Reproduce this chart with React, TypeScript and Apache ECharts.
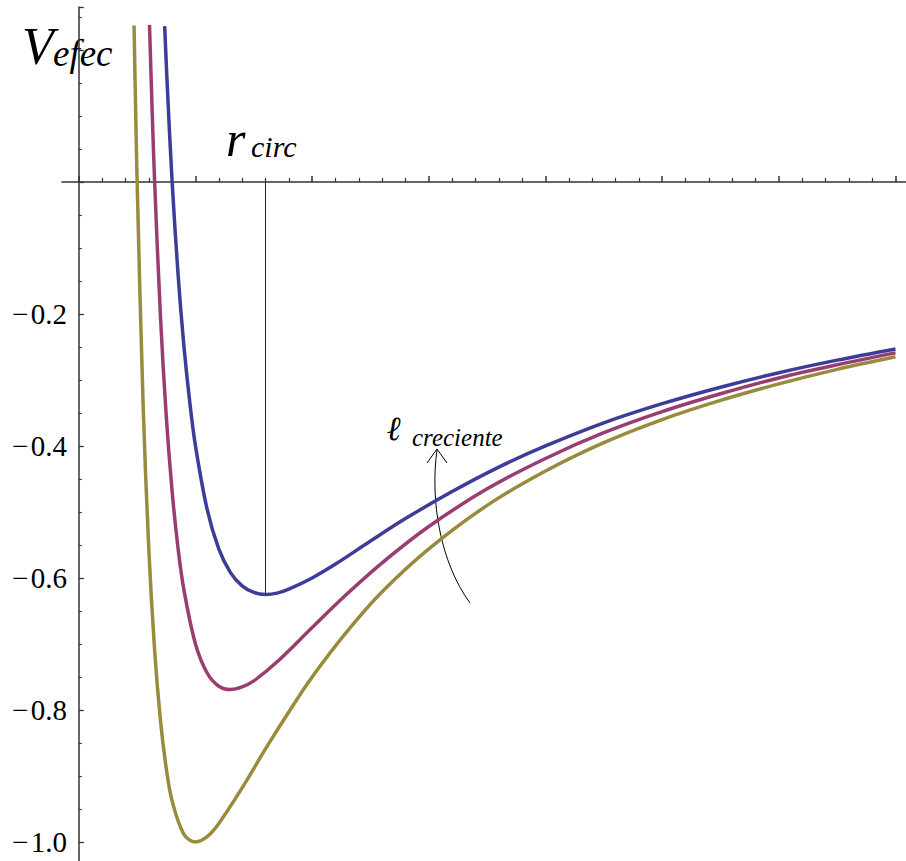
import React, { useEffect, useRef } from "react";
import * as echarts from "echarts";

// axis ranges (r in units of the major x tick, V in plot units)
const xMin = -0.144;
const xMax = 7.09;
const yMin = -1.2;
const yMax = 0.265;
const yInterval = 0.2;
const xMajorTicks = [0, 1, 2, 3, 4, 5, 6, 7];
const xMinorTicks = [
  0.2, 0.4, 0.6, 0.8, 1.2, 1.4, 1.6, 1.8, 2.2, 2.4, 2.6, 2.8, 3.2, 3.4, 3.6, 3.8,
  4.2, 4.4, 4.6, 4.8, 5.2, 5.4, 5.6, 5.8, 6.2, 6.4, 6.6, 6.8,
];
const yTickLabels = [-1.0, -0.8, -0.6, -0.4, -0.2];

// curves: [r, V]
const blueCurve = [
  [0.736, 0.236], [0.76, 0.139], [0.8, 0.0], [0.85, -0.138], [0.9, -0.247],
  [0.95, -0.332], [1.0, -0.4], [1.1, -0.496], [1.2, -0.556], [1.3, -0.592],
  [1.4, -0.612], [1.5, -0.622], [1.6, -0.625], [1.7, -0.623], [1.8, -0.617],
  [2.0, -0.6], [2.2, -0.579], [2.5, -0.544], [2.8, -0.51], [3.2, -0.469],
  [3.6, -0.432], [4.0, -0.4], [4.5, -0.365], [5.0, -0.336], [5.5, -0.311],
  [6.0, -0.289], [6.5, -0.27], [7.0, -0.253],
];
const magentaCurve = [
  [0.606, 0.238], [0.63, 0.101], [0.65, 0.0], [0.7, -0.204], [0.75, -0.356],
  [0.8, -0.469], [0.85, -0.554], [0.9, -0.617], [1.0, -0.7], [1.1, -0.744],
  [1.2, -0.764], [1.3, -0.769], [1.4, -0.765], [1.5, -0.756], [1.7, -0.727],
  [2.0, -0.675], [2.3, -0.624], [2.6, -0.577], [3.0, -0.522], [3.5, -0.465],
  [4.0, -0.419], [4.5, -0.38], [5.0, -0.348], [5.5, -0.321], [6.0, -0.297],
  [6.5, -0.277], [7.0, -0.259],
];
const yellowCurve = [
  [0.4734, 0.237], [0.49, 0.083], [0.5, 0.0], [0.55, -0.331], [0.6, -0.556],
  [0.65, -0.71], [0.7, -0.816], [0.75, -0.889], [0.8, -0.938], [0.9, -0.988],
  [1.0, -1.0], [1.1, -0.992], [1.2, -0.972], [1.4, -0.918], [1.6, -0.859],
  [1.8, -0.803], [2.0, -0.75], [2.3, -0.681], [2.6, -0.621], [3.0, -0.556],
  [3.5, -0.49], [4.0, -0.438], [4.5, -0.395], [5.0, -0.36], [5.5, -0.331],
  [6.0, -0.306], [6.5, -0.284], [7.0, -0.265],
];
// vertical marker at r_circ of the blue curve
const rCircLine = [
  [1.6, 0],
  [1.6, -0.625],
];

const serif = "Liberation Serif";

export default function App() {
  const ref = useRef<HTMLDivElement>(null);

  useEffect(() => {
    if (!ref.current) return;
    const chart = echarts.init(ref.current, null, { renderer: "svg" });
    const axisColor = "#333";
    const curveStyle = (color: string) => ({
      type: "line" as const,
      showSymbol: false,
      smooth: 0.35,
      lineStyle: { color, width: 3.5 },
      itemStyle: { color },
      z: 3,
    });
    const txt = (
      text: string,
      x: number,
      y: number,
      size: number,
      weight: string = "normal",
      family: string = serif
    ) => ({
      type: "text",
      x,
      y,
      style: {
        text,
        fontFamily: family,
        fontSize: size,
        fontStyle: "italic",
        fontWeight: weight,
        fill: "#000",
        textAlign: "left",
        textVerticalAlign: "middle",
      },
    });
    chart.setOption({
      animation: false,
      backgroundColor: "#fff",
      grid: { left: 62, right: 0, top: 7, bottom: 6, outerBoundsMode: "none", containLabel: false },
      xAxis: [
        {
          type: "value",
          min: xMin,
          max: xMax,
          position: "bottom",
          axisLine: {
            onZero: true,
            onZeroAxisIndex: 0,
            lineStyle: { color: axisColor, width: 1.5 },
          },
          axisTick: {
            inside: true,
            length: 6,
            customValues: xMajorTicks,
            lineStyle: { color: axisColor, width: 1.5 },
          },
          axisLabel: { show: false },
          splitLine: { show: false },
        },
        {
          type: "value",
          min: xMin,
          max: xMax,
          position: "bottom",
          axisLine: { show: false, onZero: true, onZeroAxisIndex: 0 },
          axisTick: {
            inside: true,
            length: 4,
            customValues: xMinorTicks,
            lineStyle: { color: axisColor, width: 1.2 },
          },
          axisLabel: { show: false },
          splitLine: { show: false },
        },
      ],
      yAxis: {
        type: "value",
        min: yMin,
        max: yMax,
        interval: yInterval,
        position: "left",
        axisLine: {
          onZero: true,
          onZeroAxisIndex: 0,
          lineStyle: { color: axisColor, width: 1.5 },
        },
        axisTick: {
          inside: true,
          length: 5,
          lineStyle: { color: axisColor, width: 1.3 },
        },
        minorTick: {
          show: true,
          splitNumber: 4,
          length: 3,
          lineStyle: { color: axisColor, width: 1.1 },
        },
        splitLine: { show: false },
        minorSplitLine: { show: false },
        axisLabel: {
          margin: 50,
          align: "left",
          fontFamily: serif,
          fontSize: 29,
          color: "#000",
          formatter: (v: number) => {
            const r = Math.round(v * 10) / 10;
            return yTickLabels.indexOf(r) >= 0 ? "\u2212\u200A" + Math.abs(r).toFixed(1) : "";
          },
        },
      },
      series: [
        {
          type: "line",
          data: rCircLine,
          showSymbol: false,
          lineStyle: { color: "#222", width: 1 },
          z: 2,
        },
        { ...curveStyle("#998b3d"), data: yellowCurve },
        { ...curveStyle("#993d71"), data: magentaCurve },
        { ...curveStyle("#3d3d99"), data: blueCurve },
      ],
      graphic: [
        txt("V", 22, 46, 52),
        txt("efec", 53, 53, 37),
        txt("r", 226, 139, 50),
        txt("circ", 251, 146, 30),
        txt("\u2113", 387, 428, 34, "bold", "DejaVu Serif"),
        txt("creciente", 412, 437, 25),
        {
          type: "bezierCurve",
          shape: {
            x1: 470,
            y1: 603,
            cpx1: 440,
            cpy1: 562,
            cpx2: 430,
            cpy2: 500,
            x2: 437,
            y2: 450,
          },
          style: { stroke: "#000", lineWidth: 1, fill: null },
        },
        {
          type: "polyline",
          shape: {
            points: [
              [427, 463],
              [437, 449],
              [447, 463],
            ],
          },
          style: { stroke: "#000", lineWidth: 1, fill: null },
        },
      ],
    });
    return () => chart.dispose();
  }, []);

  return (
    <div
      ref={ref}
      style={{ position: "absolute", left: 0, top: 0, width: 906, height: 980 }}
    />
  );
}
